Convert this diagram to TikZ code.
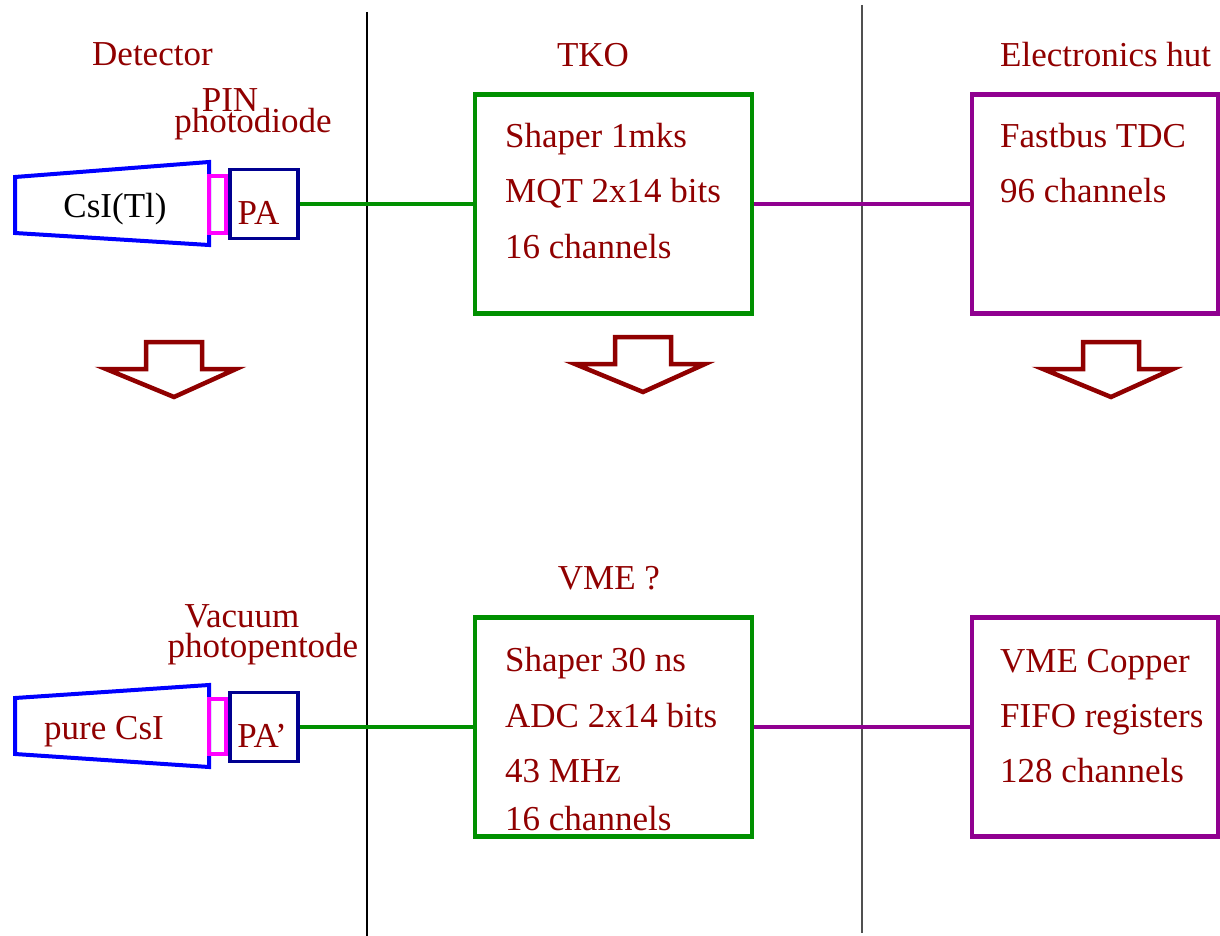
\documentclass[tikz,border=0pt]{standalone}
\usepackage{fontspec}
\setmainfont{Liberation Serif}
\definecolor{tred}{HTML}{900000}
\definecolor{tgreen}{HTML}{009000}
\definecolor{tpurple}{HTML}{900090}
\definecolor{tnavy}{HTML}{000090}
\definecolor{tmag}{HTML}{FF00FF}
\definecolor{tblue}{HTML}{0000FF}
\definecolor{tgray}{HTML}{505050}
\begin{document}
\begin{tikzpicture}[x=1pt,y=-1pt,
  txt/.style={font=\fontsize{35}{40}\selectfont, text=tred, inner sep=0pt},
  gbox/.style={draw=tgreen, line width=4.5pt, minimum width=277pt, minimum height=219pt, inner sep=0pt},
  pbox/.style={draw=tpurple, line width=4.5pt, minimum width=246pt, minimum height=219pt, inner sep=0pt},
  pabox/.style={draw=tnavy, line width=3.5pt, minimum width=68pt, minimum height=69pt, inner sep=0pt},
  pinbox/.style={draw=tmag, line width=3.5pt, minimum width=17pt, inner sep=0pt},
  crystal/.style={draw=tblue, line width=4pt, line join=miter},
  gline/.style={draw=tgreen, line width=3.5pt},
  pline/.style={draw=tpurple, line width=3.5pt},
  downarrow/.style={draw=tred, fill=white, line width=4.5pt, line join=miter}]
\useasboundingbox (0,0) rectangle (1220,936);
\fill[white] (0,0) rectangle (1220,936);

% separators
\coordinate (s1t) at (367,12);
\coordinate (s1b) at (367,936);
\coordinate (s2t) at (862,5);
\coordinate (s2b) at (862,933);
\draw[black, line width=1.5pt] (s1t) -- (s1b);
\draw[tgray, line width=2.2pt] (s2t) -- (s2b);

% column titles
\node[txt, anchor=base west] (detector) at (92,66) {Detector};
\node[txt, anchor=base] (tkot) at (593,67) {TKO};
\node[txt, anchor=base west] (hut) at (1000,67) {Electronics hut};
\node[txt, anchor=base] (vmet) at (609,589) {VME ?};

% detector top
\node[txt, anchor=base] (pin) at (230,112) {PIN};
\node[txt, anchor=base] (pdiode) at (253,133) {photodiode};
\draw[crystal] (15,177) -- (209,162) -- (209,245) -- (15,233) -- cycle;
\node[font=\fontsize{35}{40}\selectfont, text=black, inner sep=0pt, anchor=base] (csitl) at (115,217) {CsI(Tl)};
\node[pabox] (pa) at (264,204) {};
\node[pinbox, minimum height=57pt] (pin1) at (217.5,204.5) {};
\node[txt, anchor=base] (patxt) at (258.5,225) {PA};

% detector bottom
\node[txt, anchor=base] (vac) at (242,627) {Vacuum};
\node[txt, anchor=base] (ppent) at (263,657) {photopentode};
\draw[crystal] (15,698) -- (209,685) -- (209,767) -- (15,754) -- cycle;
\node[txt, anchor=base] (pure) at (104,739) {pure CsI};
\node[pabox] (pa2) at (264,727) {};
\node[pinbox, minimum height=55pt] (pin2) at (217.5,726.5) {};
\node[txt, anchor=base] (pa2txt) at (262,747) {PA'};

% TKO box
\node[gbox] (tko) at (613.5,204) {};
\node[txt, anchor=base west] (t1) at (505,148) {Shaper 1mks};
\node[txt, anchor=base west] (t2) at (505,203) {MQT 2x14 bits};
\node[txt, anchor=base west] (t3) at (505,258) {16 channels};

% VME box
\node[gbox] (vme) at (613.5,727) {};
\node[txt, anchor=base west] (v1) at (505,671) {Shaper 30 ns};
\node[txt, anchor=base west] (v2) at (505,727) {ADC 2x14 bits};
\node[txt, anchor=base west] (v3) at (505,782) {43 MHz};
\node[txt, anchor=base west] (v4) at (505,830) {16 channels};

% Electronics hut boxes
\node[pbox] (tdc) at (1095,204) {};
\node[txt, anchor=base west] (e1) at (1000,148) {Fastbus TDC};
\node[txt, anchor=base west] (e2) at (1000,203) {96 channels};

\node[pbox] (fifo) at (1095,727) {};
\node[txt, anchor=base west] (f1) at (1000,672) {VME Copper};
\node[txt, anchor=base west] (f2) at (1000,727) {FIFO registers};
\node[txt, anchor=base west] (f3) at (1000,782) {128 channels};

% connectors
\draw[gline] (pa.east) -- (tko.west);
\draw[pline] (tko.east) -- (tdc.west);
\draw[gline] (pa2.east) -- (vme.west);
\draw[pline] (vme.east) -- (fifo.west);

% block arrows
\foreach \tx/\ty in {174/397, 643/392, 1111/397}{
  \draw[downarrow] (\tx-28,\ty-55) -- (\tx+28,\ty-55) -- (\tx+28,\ty-28) -- (\tx+62,\ty-28)
     -- (\tx,\ty) -- (\tx-68,\ty-28) -- (\tx-28,\ty-28) -- cycle;
}
\end{tikzpicture}
\end{document}
